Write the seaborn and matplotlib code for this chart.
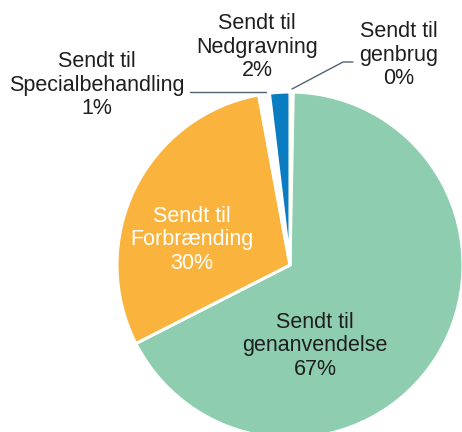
import matplotlib
matplotlib.use("Agg")
import matplotlib.pyplot as plt
import seaborn as sns

sns.set_theme(style="white")
plt.rcParams['font.family'] = ['Liberation Sans', 'DejaVu Sans']

# data, clockwise from 12 o'clock
categories = ["genbrug", "genanvendelse", "Forbrænding", "Specialbehandling", "Nedgravning"]
values = [0.3, 67.2, 29.6, 1.0, 1.9]
pct_labels = ["0%", "67%", "30%", "1%", "2%"]
colors = ["#8ecdb0", "#8ecdb0", "#fab43e", "#ffffff", "#0a7cc2"]

W, H = 462, 432
cx, cy, r = 290, 265, 173  # pie centre / radius in pixels

fig = plt.figure(figsize=(W / 100, H / 100), dpi=100)
ax = fig.add_axes([(cx - r) / W, (H - cy - r) / H, 2 * r / W, 2 * r / H])
ax.pie(values, colors=colors, startangle=90, counterclock=False, radius=1,
       wedgeprops=dict(edgecolor="white", linewidth=2.2))
ax.set_xlim(-1, 1)
ax.set_ylim(-1, 1)
ax.axis("off")


def px(x, y):
    return (x - cx) / r, (cy - y) / r


label_pos = {
    "genbrug": (399, 55),
    "genanvendelse": (315, 346),
    "Forbrænding": (192, 240),
    "Specialbehandling": (97, 85),
    "Nedgravning": (257, 47),
}
text_colors = {"Forbrænding": "white"}

for cat, pct in zip(categories, pct_labels):
    x, y = px(*label_pos[cat])
    ax.text(x, y, f"Sendt til\n{cat}\n{pct}", ha="center", va="center",
            fontsize=15.5, linespacing=1.13, color=text_colors.get(cat, "#1e1e1e"))

# leader lines
lc = "#4f6373"
ax.plot(*zip(px(190, 92), px(266, 92)), color=lc, lw=1.0, clip_on=False)
ax.plot(*zip(px(292, 89), px(343, 62), px(353, 62)), color=lc, lw=1.0, clip_on=False)

fig.savefig("out.png", dpi=100)
